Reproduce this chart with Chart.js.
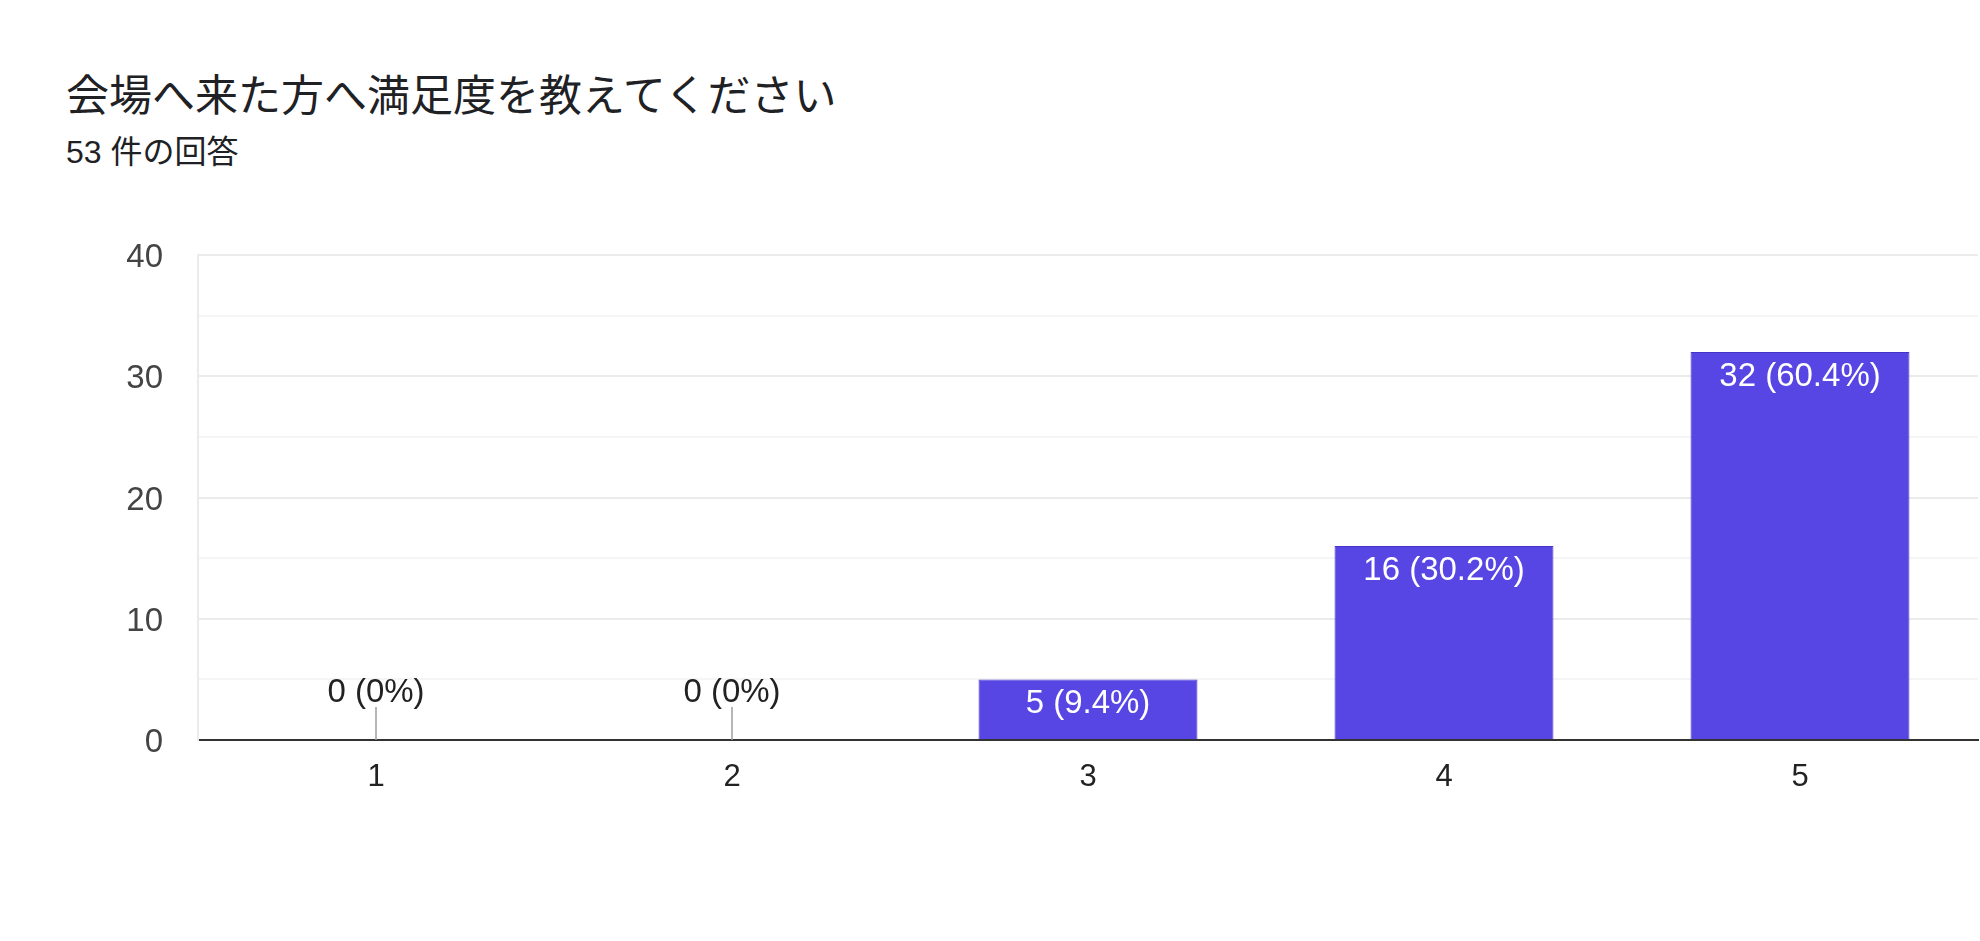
<!DOCTYPE html>
<html lang="ja">
<head>
<meta charset="utf-8">
<title>会場へ来た方へ満足度を教えてください</title>
<script src="https://cdn.jsdelivr.net/npm/chart.js@4.4.1/dist/chart.umd.min.js"></script>
<style>
  html, body {
    margin: 0;
    padding: 0;
    background: #ffffff;
    width: 1980px;
    height: 941px;
    overflow: hidden;
  }
  #title {
    position: absolute;
    left: 66px;
    top: 71px;
    font-family: "Noto Sans CJK JP", "Noto Sans", sans-serif;
    font-size: 43px;
    line-height: 43px;
    color: #202124;
    white-space: nowrap;
  }
  #subtitle {
    position: absolute;
    left: 66px;
    top: 135px;
    font-family: "Liberation Sans", "Noto Sans CJK JP", sans-serif;
    font-size: 32px;
    line-height: 34px;
    color: #202124;
    white-space: nowrap;
  }
  #wrap {
    position: absolute;
    left: 0;
    top: 0;
    width: 1980px;
    height: 941px;
  }
</style>
</head>
<body>
<div id="title">会場へ来た方へ満足度を教えてください</div>
<div id="subtitle">53 件の回答</div>
<div id="wrap"><canvas id="chart" width="1980" height="941"></canvas></div>

<script>
// Chart data
const categories = ["1", "2", "3", "4", "5"];
const counts = [0, 0, 5, 16, 32];
const pctLabels = ["0%", "0%", "9.4%", "30.2%", "60.4%"];
const yMax = 40;
const yStep = 5;

Chart.defaults.font.family = "'Liberation Sans', Arial, sans-serif";

// Draw "n (p%)" labels: inside the bar when it has height, above a small stub when it is 0
const barLabels = {
  id: "barLabels",
  afterDatasetsDraw(chart) {
    const ctx = chart.ctx;
    const meta = chart.getDatasetMeta(0);
    ctx.save();
    ctx.font = "33px 'Liberation Sans', Arial, sans-serif";
    ctx.textAlign = "center";
    ctx.textBaseline = "middle";
    meta.data.forEach((bar, i) => {
      const text = counts[i] + " (" + pctLabels[i] + ")";
      if (counts[i] > 0) {
        ctx.fillStyle = "#ffffff";
        ctx.fillText(text, bar.x, bar.y + 25);
      } else {
        ctx.strokeStyle = "#9e9e9e";
        ctx.lineWidth = 1.5;
        ctx.beginPath();
        ctx.moveTo(bar.x, bar.base);
        ctx.lineTo(bar.x, bar.base - 33);
        ctx.stroke();
        ctx.fillStyle = "#222222";
        ctx.fillText(text, bar.x, bar.base - 47);
      }
    });
    ctx.restore();
  },
};

const ctx = document.getElementById("chart").getContext("2d");
const chart = new Chart(ctx, {
  type: "bar",
  data: {
    labels: categories,
    datasets: [
      {
        data: counts,
        backgroundColor: "#5745e4",
        borderColor: "#4433c8",
        borderWidth: 1,
        barPercentage: 0.615,
        categoryPercentage: 1.0,
      },
    ],
  },
  options: {
    responsive: false,
    animation: false,
    layout: {
      padding: { left: 0, top: 255, right: 2, bottom: 101 },
    },
    plugins: {
      legend: { display: false },
      tooltip: { enabled: false },
    },
    scales: {
      x: {
        grid: { display: false, drawTicks: false },
        border: { display: true, color: "#333333", width: 2 },
        ticks: {
          color: "#222222",
          font: { size: 31 },
          padding: 19,
        },
        afterFit(scale) {
          scale.height = 100;
        },
      },
      y: {
        min: 0,
        max: yMax,
        grid: {
          drawTicks: false,
          lineWidth: 2,
          color: (c) => {
            if (c.tick.value === 0) return "rgba(0,0,0,0)";
            return c.tick.value % 10 === 0 ? "#ebebeb" : "#f5f5f5";
          },
        },
        border: { display: true, color: "#ebebeb", width: 2 },
        ticks: {
          stepSize: yStep,
          color: "#444444",
          font: { size: 33 },
          padding: 35,
          labelOffset: 3,
          callback: (value) => (value % 10 === 0 ? value : ""),
        },
        afterFit(scale) {
          scale.width = 198;
        },
      },
    },
  },
  plugins: [barLabels],
});
</script>
</body>
</html>
